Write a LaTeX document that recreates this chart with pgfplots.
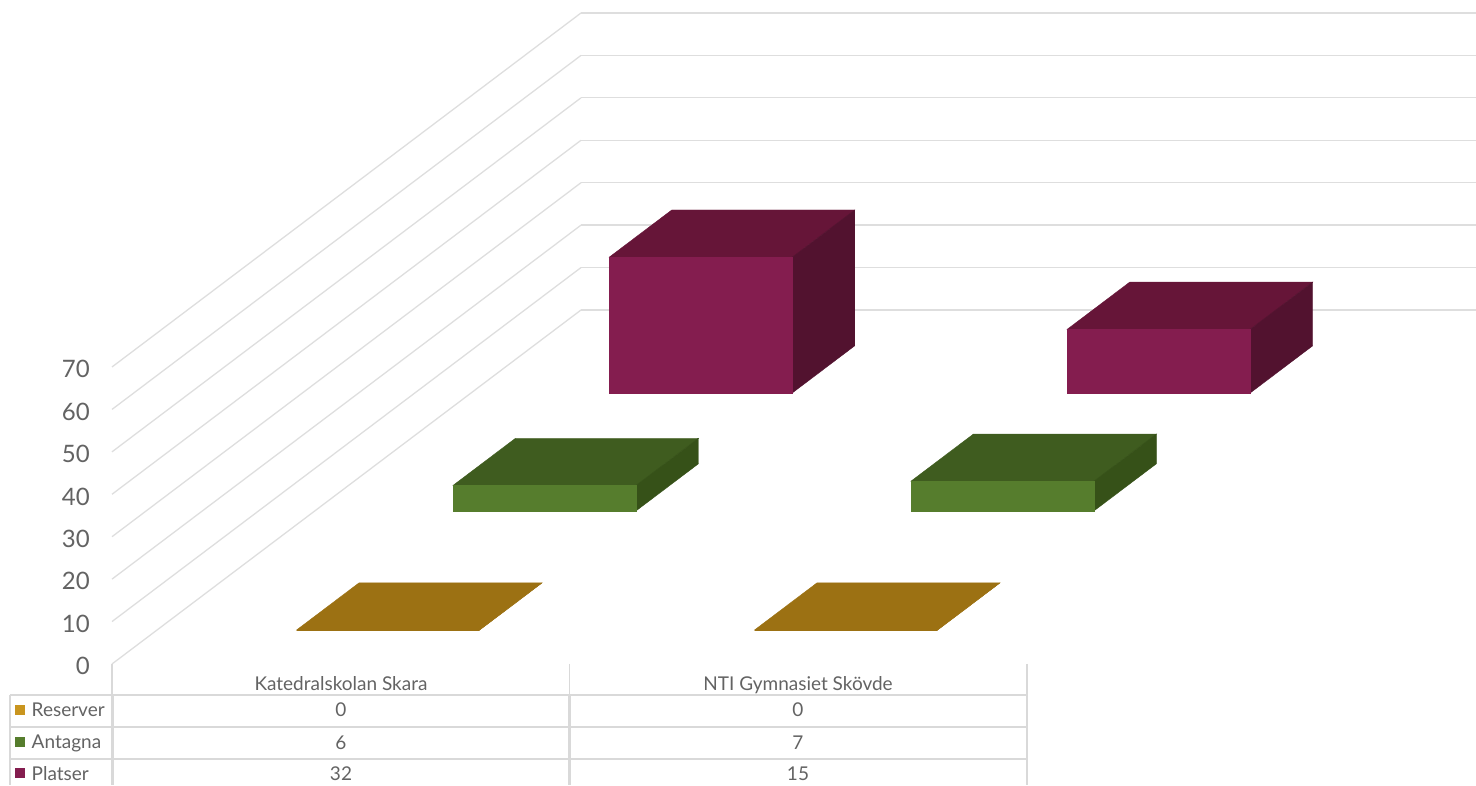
\documentclass[border=0pt]{standalone}
\usepackage{pgfplots}
\pgfplotsset{compat=1.18}
\usepackage{fontspec}
\setmainfont{Lato}
\definecolor{gridc}{HTML}{DEDEDE}
\definecolor{tablec}{HTML}{D9D9D9}
\definecolor{txt}{HTML}{636363}
\definecolor{goldT}{HTML}{9C7113}
\definecolor{goldS}{HTML}{C9951F}
\definecolor{greenF}{HTML}{567D2D}
\definecolor{greenT}{HTML}{3F5C1F}
\definecolor{greenS}{HTML}{365118}
\definecolor{purF}{HTML}{841D4F}
\definecolor{purT}{HTML}{661538}
\definecolor{purS}{HTML}{52122F}
% one 3D bar: x0, y0 (front-left floor corner), value, front, top, side colours
\newcommand{\barthree}[6]{%
  \pgfmathsetmacro{\xa}{#1}\pgfmathsetmacro{\xb}{#1+0.4}%
  \pgfmathsetmacro{\ya}{#2}\pgfmathsetmacro{\yb}{#2+0.4}%
  \edef\tmp{\noexpand\addplot3[fill=#5,draw=#5,line width=0.4pt,forget plot] coordinates {(\xa,\ya,#3)(\xb,\ya,#3)(\xb,\yb,#3)(\xa,\yb,#3)} --cycle;
  \noexpand\addplot3[fill=#6,draw=#6,line width=0.4pt,forget plot] coordinates {(\xb,\ya,0)(\xb,\yb,0)(\xb,\yb,#3)(\xb,\ya,#3)} --cycle;
  \noexpand\addplot3[fill=#4,draw=#4,line width=0.4pt,forget plot] coordinates {(\xa,\ya,0)(\xb,\ya,0)(\xb,\ya,#3)(\xa,\ya,#3)} --cycle;}%
  \tmp
}
\begin{document}
\begin{tikzpicture}[x=1pt,y=1pt]
\path[use as bounding box] (0,0) rectangle (1476,785);
\clip (0,0) rectangle (1476,785);
\begin{axis}[
  at={(112pt,121pt)},anchor=origin,
  x={(457.5pt,0pt)},y={(156.33pt,118pt)},z={(0pt,4.243pt)},
  xmin=0,xmax=2,ymin=0,ymax=3,zmin=0,zmax=70,
  xtick=\empty,ytick=\empty,ztick={0,10,...,70},
  grid=major,
  major grid style={draw=gridc,line width=1.3pt},
  axis line style={draw=none},
  tick style={draw=none},
  tick label style={font=\fontsize{24}{24}\selectfont,text=txt},
  z tick label style={anchor=east,inner sep=0pt,xshift=-22pt,yshift=-2.2pt},
  /pgf/number format/assume math mode=true,
  clip=false,
]
\barthree{0.302}{2.297}{32}{purF}{purT}{purS}
\barthree{1.303}{2.297}{15}{purF}{purT}{purS}
\barthree{0.302}{1.297}{6}{greenF}{greenT}{greenS}
\barthree{1.303}{1.297}{7}{greenF}{greenT}{greenS}
\barthree{0.305}{0.288}{0}{goldT}{goldT}{goldT}
\barthree{1.306}{0.288}{0}{goldT}{goldT}{goldT}
\end{axis}
% data table
\draw[tablec,line width=1.4pt] (112,121) -- (112,90) (569.5,121) -- (569.5,90) (1027,121) -- (1027,90);
\draw[tablec,line width=2.4pt] (10,90) -- (1027,90) (10,58) -- (1027,58) (10,26) -- (1027,26);
\draw[tablec,line width=2.4pt] (10,90) -- (10,0) (112.5,90) -- (112.5,0) (569.5,90) -- (569.5,0) (1027,90) -- (1027,0);
\fill[goldS] (15,70) rectangle (25,80);
\fill[greenF] (15,38) rectangle (25,48);
\fill[purF] (15,7) rectangle (25,17);
\begin{scope}[every node/.style={text=txt,font=\fontsize{19}{19}\selectfont,inner sep=0pt,anchor=base}]
\node[anchor=base west] at (31.5,68) {Reserver};
\node[anchor=base west] at (31.5,36.5) {Antagna};
\node[anchor=base west] at (31.5,4.5) {Platser};
\node at (341,94) {Katedralskolan Skara};
\node at (798,94) {NTI Gymnasiet Skövde};
\node at (341,68) {0}; \node at (798,68) {0};
\node at (341,36) {6}; \node at (798,36) {7};
\node at (341,4.5) {32}; \node at (798,4.5) {15};
\end{scope}
\end{tikzpicture}
\end{document}
